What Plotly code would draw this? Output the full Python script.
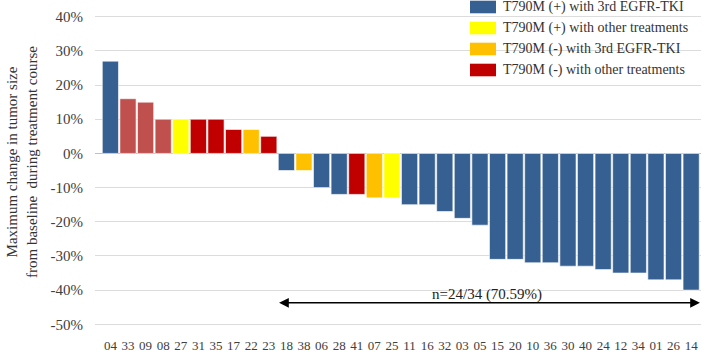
import plotly.graph_objects as go

patients = ["04", "33", "09", "08", "27", "31", "35", "17", "22", "23", "18", "38", "06", "28", "41",
            "07", "25", "11", "16", "32", "03", "05", "15", "20", "10", "36", "30", "40", "24", "12",
            "34", "01", "26", "14"]
change = [27, 16, 15, 10, 10, 10, 10, 7, 7, 5, -5, -5, -10, -12, -12,
          -13, -13, -15, -15, -17, -19, -21, -31, -31, -32, -32, -33, -33, -34, -35,
          -35, -37, -37, -40]
group = ["A", "E", "E", "E", "B", "D", "D", "D", "C", "D", "A", "C", "A", "A", "D",
         "C", "B", "A", "A", "A", "A", "A", "A", "A", "A", "A", "A", "A", "A", "A",
         "A", "A", "A", "A"]

group_names = {
    "A": "T790M (+) with 3rd EGFR-TKI",
    "B": "T790M (+) with other treatments",
    "C": "T790M (-) with 3rd EGFR-TKI",
    "D": "T790M (-) with other treatments",
    "E": "Other",
}
group_colors = {"A": "#376092", "B": "#FFFF00", "C": "#FFC000", "D": "#C00000", "E": "#C0504D"}
legend_groups = ["A", "B", "C", "D"]

responders_label = "n=24/34 (70.59%)"

serif = "Liberation Serif, Times New Roman, serif"

fig = go.Figure()
for g in ["A", "B", "C", "D", "E"]:
    xs = [p for p, gg in zip(patients, group) if gg == g]
    ys = [v for v, gg in zip(change, group) if gg == g]
    fig.add_trace(go.Bar(x=xs, y=ys, name=group_names[g], showlegend=False,
                         marker=dict(color=group_colors[g], line=dict(color="white", width=0.6))))

# manual legend (wide rectangle keys like the original)
L, T, PW = 95, 15, 606
PH = 311
for i, g in enumerate(legend_groups):
    yc = 7 + i * 21
    x0 = (470 - L) / PW
    x1 = (496 - L) / PW
    y0 = 1 - (yc - 6.3 - T) / PH
    y1 = 1 - (yc + 6.3 - T) / PH
    fig.add_shape(type="rect", xref="paper", yref="paper", x0=x0, x1=x1, y0=y1, y1=y0,
                  fillcolor=group_colors[g], line=dict(width=0), layer="above")
    fig.add_annotation(xref="paper", yref="paper", x=(501 - L) / PW, y=1 - (yc - T) / PH,
                       text=group_names[g], showarrow=False, xanchor="left", yanchor="middle",
                       font=dict(family=serif, size=14, color="#333333"))

# double-headed arrow
fig.add_annotation(x=33.5, y=-43.7, ax=9.5, ay=-43.7, xref="x", yref="y", axref="x", ayref="y",
                   text="", showarrow=True, arrowside="end+start", arrowhead=2, arrowsize=1.3,
                   arrowwidth=1.5, arrowcolor="black", standoff=0, startstandoff=0)
fig.add_annotation(x=21.4, y=-41.3, xref="x", yref="y", text=responders_label, showarrow=False,
                   font=dict(family=serif, size=15, color="#222222"))

# y-axis title
fig.add_annotation(xref="paper", yref="paper", x=(22 - L) / PW, y=1 - (162 - T) / PH, textangle=-90,
                   text="Maximum change in tumor size<br>from baseline  during treatment course",
                   showarrow=False, xanchor="center", yanchor="middle",
                   font=dict(family=serif, size=15, color="#333333"))

fig.update_layout(
    width=709, height=353,
    margin=dict(l=L, r=709 - L - PW, t=T, b=353 - T - PH, autoexpand=False),
    plot_bgcolor="white", paper_bgcolor="white",
    barmode="relative", bargap=0.08,
    showlegend=False,
    font=dict(family=serif, size=14, color="#404040"),
)
fig.update_xaxes(type="category", categoryorder="array", categoryarray=patients,
                 range=[-0.875, 33.56], showgrid=False, showline=False, zeroline=False,
                 ticks="outside", ticklen=7, tickcolor="rgba(0,0,0,0)",
                 tickfont=dict(family=serif, size=13, color="#404040"), automargin=False)
fig.update_yaxes(range=[-50.5, 40.5], tickvals=[-50, -40, -30, -20, -10, 0, 10, 20, 30, 40],
                 ticktext=["-50%", "-40%", "-30%", "-20%", "-10%", "0%", "10%", "20%", "30%", "40%"],
                 showgrid=True, gridcolor="#DCDCDC", gridwidth=1, zeroline=True,
                 zerolinecolor="#BFBFBF", zerolinewidth=1, showline=False,
                 ticks="outside", ticklen=8, tickcolor="rgba(0,0,0,0)",
                 tickfont=dict(family=serif, size=15, color="#404040"), automargin=False)

fig.write_html("out.html", config={"displayModeBar": False},
               post_script="document.body.style.margin='0px';")
